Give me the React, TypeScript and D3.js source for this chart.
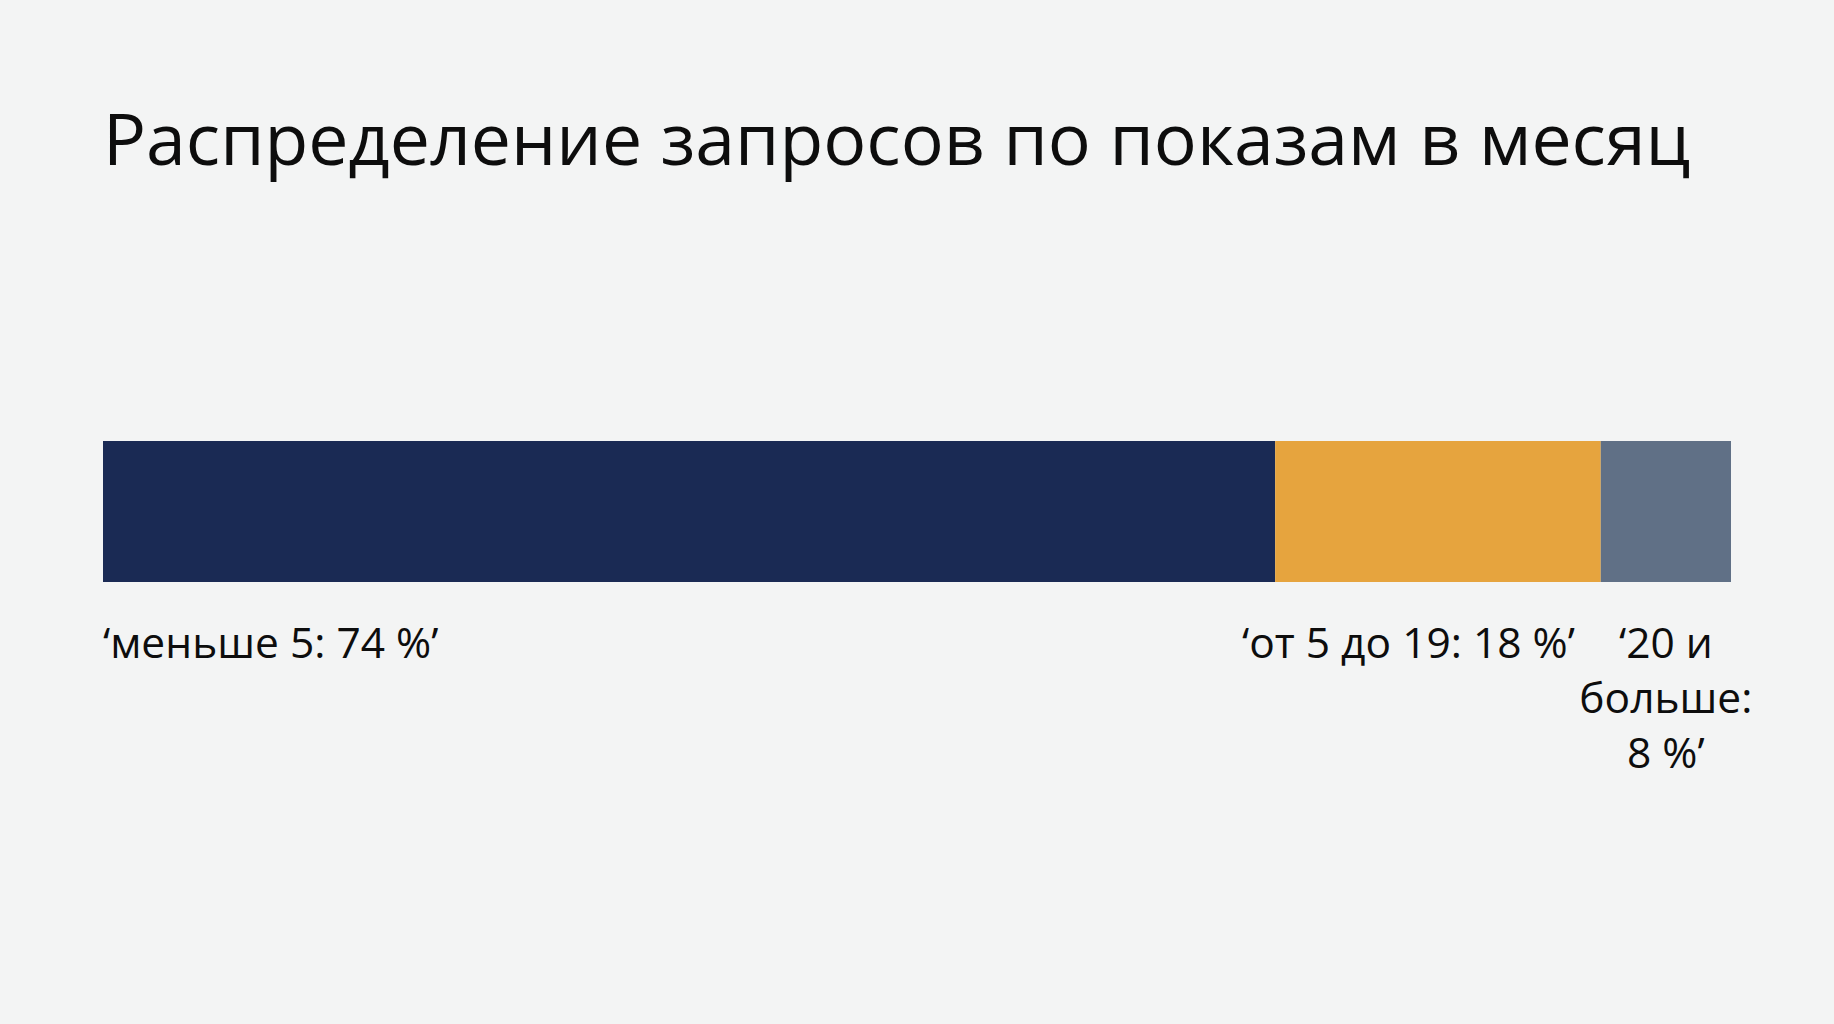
import React, { useEffect, useRef } from "react";
import * as d3 from "d3";

// shares as drawn in the bar (percent of total width)
const categories = ["lt5", "5to19", "ge20"];
const shares = [72, 20, 8];
const labelLines = [
  ["‘меньше 5: 74 %’"],
  ["‘от 5 до 19: 18 %’"],
  ["‘20 и", "больше:", "8 %’"],
];
const colors = ["#1a2a54", "#e6a43e", "#607086"];
const title = "Распределение запросов по показам в месяц";

const W = 1834;
const H = 1024;

const App = () => {
  const svgRef = useRef<SVGSVGElement | null>(null);

  useEffect(() => {
    document.body.style.margin = "0";
    const marginLeft = 103;
    const marginRight = 103;
    const barTop = 441;
    const barHeight = 141;
    const font = "'Open Sans', 'Noto Sans', sans-serif";

    const svg = d3.select(svgRef.current);
    svg.selectAll("*").remove();

    svg.append("rect").attr("width", W).attr("height", H).attr("fill", "#f3f4f4");

    svg
      .append("text")
      .attr("x", marginLeft)
      .attr("y", 165)
      .attr("font-family", font)
      .attr("font-size", 71.6)
      .attr("fill", "#0d0d0d")
      .text(title);

    // stacked segments
    let acc = 0;
    const segs = shares.map((v, i) => {
      const s = { key: categories[i], start: acc, end: acc + v, i };
      acc += v;
      return s;
    });

    const x = d3
      .scaleLinear()
      .domain([0, d3.sum(shares)])
      .range([marginLeft, W - marginRight]);

    svg
      .append("g")
      .selectAll("rect")
      .data(segs)
      .join("rect")
      .attr("x", (d) => x(d.start))
      .attr("y", barTop)
      .attr("width", (d) => x(d.end) - x(d.start))
      .attr("height", barHeight)
      .attr("fill", (d) => colors[d.i]);

    // labels
    const labelY = barTop + barHeight + 76;
    const lineH = 55;

    const mkLabel = (i: number, xPos: number, anchor: string) => {
      const t = svg
        .append("text")
        .attr("font-family", font)
        .attr("font-size", 42.5)
        .attr("fill", "#0d0d0d")
        .attr("text-anchor", anchor);
      t.selectAll("tspan")
        .data(labelLines[i])
        .join("tspan")
        .attr("x", xPos)
        .attr("y", (_, k) => labelY + k * lineH)
        .text((d) => d);
      return t;
    };

    // first: start at bar start
    mkLabel(0, x(segs[0].start), "start");
    // last: centered under its segment
    const last = segs[2];
    const lastLbl = mkLabel(2, (x(last.start) + x(last.end)) / 2, "middle");
    const firstLine = (lastLbl.select("tspan").node() as SVGTSpanElement).getBBox();
    // middle: centered under segment, pushed left if it would collide
    const mid = segs[1];
    const midLbl = mkLabel(1, (x(mid.start) + x(mid.end)) / 2, "middle");
    const mb = (midLbl.node() as SVGTextElement).getBBox();
    const maxRight = firstLine.x - 44;
    if (mb.x + mb.width > maxRight) {
      midLbl.selectAll("tspan").attr("text-anchor", "end").attr("x", maxRight);
    }
  }, []);

  return <svg ref={svgRef} width={W} height={H} style={{ display: "block" }}></svg>;
};

export default App;
